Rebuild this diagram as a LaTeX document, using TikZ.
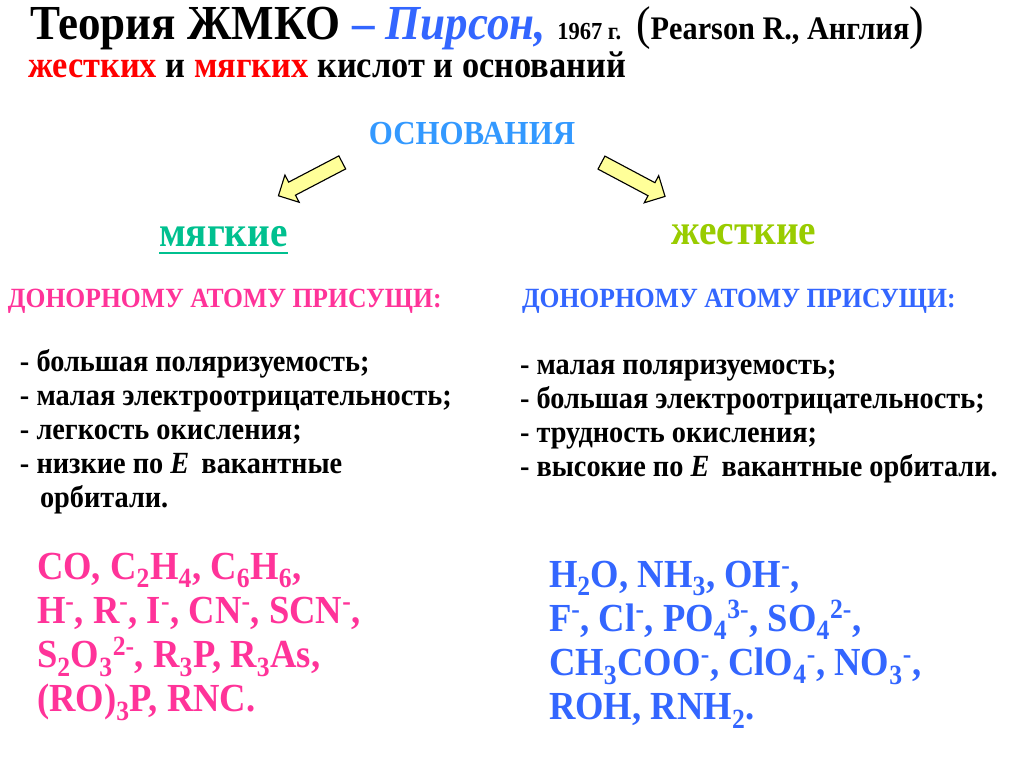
\documentclass[tikz,border=0pt]{standalone}
\usepackage{fontspec}
\setmainfont{Liberation Serif}
\newfontfamily\slidefont[FakeStretch=0.92]{Liberation Serif}
\usepackage{xcolor}
\usepackage{tikz}
\usetikzlibrary{positioning,shapes.arrows}
\definecolor{pirson}{HTML}{3366FF}
\definecolor{basecol}{HTML}{3399FF}
\definecolor{softcol}{HTML}{00C08F}
\definecolor{hardcol}{HTML}{99CC00}
\definecolor{pinkcol}{HTML}{FF3399}
\definecolor{arrowfill}{HTML}{FFFF99}
\newcommand{\lo}[1]{\raisebox{-0.05em}{\textsubscript{#1}}}
\newcommand{\hi}[1]{\textsuperscript{#1}}
\tikzset{
  txt/.style={anchor=base west, inner sep=0pt, outer sep=0pt, align=left},
  headline/.style={txt, font=\slidefont\bfseries\fontsize{34.8}{36}\selectfont},
  subline/.style={txt, font=\slidefont\bfseries\fontsize{26.6}{28}\selectfont},
  groupname/.style={txt, anchor=base, font=\slidefont\bfseries\fontsize{23.9}{25}\selectfont, text=basecol},
  kind/.style={txt, font=\slidefont\bfseries\fontsize{30.4}{32}\selectfont},
  donor/.style={txt, font=\slidefont\bfseries\fontsize{19.8}{21}\selectfont},
  props/.style={txt, font=\slidefont\bfseries\fontsize{21.9}{24.2}\selectfont},
  chem/.style={txt, font=\slidefont\bfseries\fontsize{28.3}{31.5}\selectfont},
  bigarrow/.style={
    single arrow,
    draw=black,
    line width=0.8pt,
    fill=arrowfill,
    inner sep=0.17cm,
    single arrow head extend=0.2cm,
    single arrow head indent=0pt,
    minimum height=1.8cm
  }
}

\begin{document}
\begin{tikzpicture}[x=1cm,y=1cm]
\path[use as bounding box] (0,0) rectangle (25.6,19.175);
\fill[white] (0,0) rectangle (25.6,19.175);

% header
\node[headline] (title) at (0.75,18.175)
  {Теория ЖМКО {\color{pirson}– \itshape Пирсон,} {\fontsize{17.4}{19}\selectfont 1967 г.}
   {\fontsize{33.7}{36}\selectfont\mdseries(}{\fontsize{23.4}{25}\selectfont Pearson R., Англия}{\fontsize{33.7}{36}\selectfont\mdseries)}};
\node[subline] (kinds) at (0.7,17.225)
  {{\color{red}жестких} и {\color{red}мягких} кислот и оснований};

% bases and the two kinds
\node[groupname] (osn) at (11.8,15.55) {ОСНОВАНИЯ};
\node[bigarrow, rotate=207.6] (arrsoft) at (7.84,14.74) {};
\node[bigarrow, rotate=-28] (arrhard) at (15.75,14.73) {};

\node[kind, text=softcol] (soft) at (3.975,13.0) {мягкие};
\draw[softcol, line width=1.4pt] ([yshift=-0.15cm]soft.base west) -- ([yshift=-0.15cm]soft.base east);
\node[kind, text=hardcol] (hard) at (16.775,13.05) {жесткие};

\node[donor, text=pinkcol] (donsoft) at (0.2,11.475) {ДОНОРНОМУ АТОМУ ПРИСУЩИ:};
\node[donor, text=pirson] (donhard) at (13.05,11.475) {ДОНОРНОМУ АТОМУ ПРИСУЩИ:};

\node[props] (propsoft) at (0.5,6.475)
  {- большая поляризуемость;\\
   - малая электроотрицательность;\\
   - легкость окисления;\\
   - низкие по \textit{E}\, вакантные\\
   \hspace{0.5cm}орбитали.};
\node[props] (prophard) at (13.0,7.25)
  {- малая поляризуемость;\\
   - большая электроотрицательность;\\
   - трудность окисления;\\
   - высокие по \textit{E}\, вакантные орбитали.};

% examples
\node[chem, text=pinkcol] (chemsoft) at (0.925,1.375)
  {CO, C\lo{2}H\lo{4}, C\lo{6}H\lo{6},\\
   H\hi{-}, R\hi{-}, I\hi{-}, CN\hi{-}, SCN\hi{-},\\
   S\lo{2}O\lo{3}\hi{2-}, R\lo{3}P, R\lo{3}As,\\
   (RO)\lo{3}P, RNC.};
\node[chem, text=pirson] (chemhard) at (13.725,1.175)
  {H\lo{2}O, NH\lo{3}, OH\hi{-},\\
   F\hi{-}, Cl\hi{-}, PO\lo{4}\hi{3-}, SO\lo{4}\hi{2-},\\
   CH\lo{3}COO\hi{-}, ClO\lo{4}\hi{-}, NO\lo{3}\hi{-},\\
   ROH, RNH\lo{2}.};
\end{tikzpicture}
\end{document}
